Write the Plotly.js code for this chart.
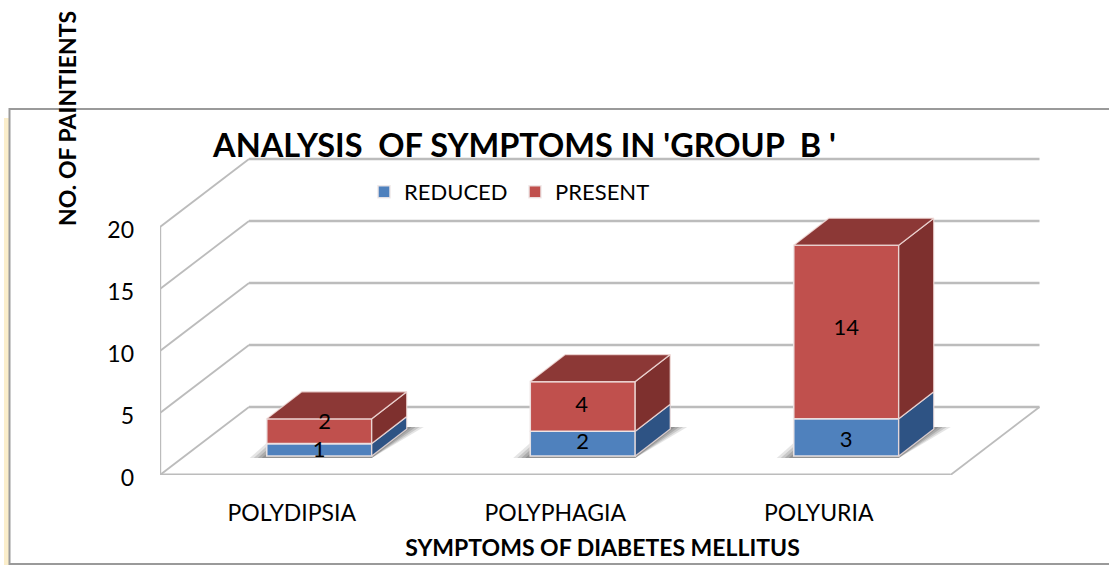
<!DOCTYPE html>
<html>
<head>
<meta charset="utf-8">
<script src="https://cdn.plot.ly/plotly-3.0.1.min.js"></script>
<style>html,body{margin:0;padding:0;background:#fff}#c{width:1109px;height:565px}</style>
</head>
<body>
<div id="c"></div>
<script>
// Data
const categories = ['POLYDIPSIA', 'POLYPHAGIA', 'POLYURIA'];
const reduced = [1, 2, 3];
const present = [2, 4, 14];
const yTicks = [0, 5, 10, 15, 20];

// Layout geometry
const W = 1109, H = 565;
const L = 160, R = 1045, T = 155, B = 475;
const pxPerCat = 263.5, pxPerUnit = 12.4;
const cx = px => px / pxPerCat, cy = px => px / pxPerUnit;
const xMin = -0.5, xMax = xMin + (R - L) / pxPerCat;
const yMax = (B - T) / pxPerUnit;
const paperX = px => (px - L) / (R - L), paperY = py => (B - py) / (B - T);

// 3D projection, expressed in axis units
const wallDx = cx(89), wallDy = cy(68);
const barShiftX = cx(27.5), barLift = cy(19);
const barW = cx(105), depthX = cx(35), depthY = cy(27);

const idx = categories.map((_, i) => i);
const barX = idx.map(i => i + barShiftX);
const stackTop = idx.map(i => reduced[i] + present[i]);

// Walls, floor and shadows sit below the traces
const GRID = '#bcbcbc';
const seg = (x0, y0, x1, y1, w) => ({
  type: 'line', layer: 'below', xref: 'x', yref: 'y',
  x0, y0, x1, y1, line: {color: GRID, width: w || 2.4}
});
const frontR = xMin + categories.length;
const shapes = [];
yTicks.forEach(t => {
  shapes.push(seg(xMin, t, xMin + wallDx, t + wallDy, 1.8));
  shapes.push(seg(xMin + wallDx, t + wallDy, frontR + wallDx, t + wallDy, 2.6));
});
shapes.push(seg(xMin, 0, xMin, yTicks[yTicks.length - 1]));
shapes.push(seg(xMin, 0, frontR, 0, 2.8));
shapes.push(seg(frontR, 0, frontR + wallDx, wallDy, 1.8));

// Soft floor shadows
[[17, 0.14], [13, 0.18], [9, 0.22], [5, 0.25]].forEach(([spread, op]) => {
  barX.forEach(x => {
    const xl = x - barW / 2, xr = x + barW / 2, s = cx(spread);
    const yLow = barLift - cy(2), yHigh = barLift + depthY + cy(2);
    const xs = [xl - s, xr, xr + depthX + s, xl + depthX - s];
    const ys = [yLow, yLow, yHigh, yHigh];
    shapes.push({
      type: 'path', layer: 'below', xref: 'x', yref: 'y',
      path: xs.map((v, i) => (i ? 'L' : 'M') + v + ',' + ys[i]).join(' ') + ' Z',
      fillcolor: 'rgba(70,70,70,' + op + ')', line: {width: 0}
    });
  });
});

// Outer frame and its pale left glow, in paper coordinates
const glow = {
  type: 'rect', xref: 'paper', yref: 'paper', layer: 'below',
  x0: paperX(4), x1: paperX(9), y0: paperY(565), y1: paperY(118),
  fillcolor: '#fbeecb', line: {width: 0}
};
const frame = {
  type: 'rect', xref: 'paper', yref: 'paper', layer: 'below',
  x0: paperX(9.5), x1: paperX(1112), y0: paperY(564), y1: paperY(109),
  fillcolor: 'rgba(0,0,0,0)', line: {color: '#9a9a9a', width: 2}
};
shapes.unshift(glow, frame);

// Depth faces: built from the values through the axes
function face(list, color) {
  const xs = [], ys = [];
  list.forEach(p => {
    p.forEach(q => { xs.push(q[0]); ys.push(q[1]); });
    xs.push(p[0][0]); ys.push(p[0][1]);
    xs.push(null); ys.push(null);
  });
  return {
    type: 'scatter', mode: 'lines', x: xs, y: ys, fill: 'toself', fillcolor: color,
    line: {color: 'rgba(245,225,222,0.8)', width: 1.3}, showlegend: false,
    hoverinfo: 'skip', cliponaxis: false
  };
}
const side = (i, a, b) => {
  const r = barX[i] + barW / 2, y0 = barLift + a, y1 = barLift + b;
  return [[r, y0], [r + depthX, y0 + depthY], [r + depthX, y1 + depthY], [r, y1]];
};
const top3d = i => {
  const l = barX[i] - barW / 2, r = barX[i] + barW / 2, y = barLift + stackTop[i];
  return [[l, y], [r, y], [r + depthX, y + depthY], [l + depthX, y + depthY]];
};

// Data labels: centred on each segment, with the small nudges seen in the reference
const nudgeReducedPx = [-2, 0, -4];
const nudgePresentPx = [8, 0, 2.5];
const nudgePresentXPx = [5.5, -1, 0];
const labelX = [], labelY = [], labelT = [];
idx.forEach(i => {
  labelX.push(barX[i]); labelY.push(barLift + reduced[i] / 2 + cy(nudgeReducedPx[i])); labelT.push(String(reduced[i]));
  labelX.push(barX[i] + cx(nudgePresentXPx[i])); labelY.push(barLift + reduced[i] + present[i] / 2 + cy(nudgePresentPx[i])); labelT.push(String(present[i]));
});

const barEdge = {color: 'rgba(240,232,232,0.9)', width: 1.6};
const traces = [
  {type: 'bar', name: 'REDUCED', x: barX, y: reduced, base: barX.map(() => barLift), width: barW,
   marker: {color: '#4F81BD', line: barEdge}, hoverinfo: 'skip'},
  {type: 'bar', name: 'PRESENT', x: barX, y: present, base: reduced.map(v => barLift + v), width: barW,
   marker: {color: '#C0504D', line: barEdge}, hoverinfo: 'skip'},
  face(idx.map(i => side(i, 0, reduced[i])), '#2E5384'),
  face(idx.map(i => side(i, reduced[i], stackTop[i])), '#7E302E'),
  face(idx.map(top3d), '#8C3836'),
  {type: 'scatter', mode: 'text', x: labelX, y: labelY, text: labelT, textposition: 'middle center',
   textfont: {family: 'Lato, sans-serif', size: 22, color: '#000'}, showlegend: false, hoverinfo: 'skip', cliponaxis: false}
];

const layout = {
  width: W, height: H, autosize: false,
  margin: {l: L, r: W - R, t: T, b: H - B, pad: 0},
  paper_bgcolor: '#ffffff', plot_bgcolor: 'rgba(0,0,0,0)',
  font: {family: 'Lato, sans-serif', color: '#000'},
  barmode: 'overlay',
  title: {
    text: "ANALYSIS\u00A0\u00A0OF SYMPTOMS IN 'GROUP\u00A0\u00A0B\u00A0'",
    font: {family: 'Lato, sans-serif', size: 32.5, weight: 700, color: '#000'},
    x: 524.5 / W, xanchor: 'center', y: 1 - 146 / H, yanchor: 'middle'
  },
  xaxis: {
    type: 'linear', range: [xMin, xMax], tickmode: 'array', tickvals: idx, ticktext: categories,
    showgrid: false, zeroline: false, showline: false, ticks: '', ticklabelstandoff: 22,
    tickfont: {family: 'Lato, sans-serif', size: 23, color: '#000'}, automargin: false,
    title: {text: 'SYMPTOMS OF DIABETES MELLITUS', standoff: 14,
            font: {family: 'Lato, sans-serif', size: 23, weight: 700, color: '#000'}}
  },
  yaxis: {
    type: 'linear', range: [0, yMax], tickmode: 'array', tickvals: yTicks,
    showgrid: false, zeroline: false, showline: false, ticks: '', ticklabelstandoff: 25,
    ticklabelshift: 3,
    tickfont: {family: 'Lato, sans-serif', size: 23, color: '#000'}, automargin: false
  },
  legend: {
    orientation: 'h', x: paperX(364), y: paperY(192), xanchor: 'left', yanchor: 'middle',
    font: {family: 'Lato, sans-serif', size: 22, color: '#000'}, bgcolor: 'rgba(0,0,0,0)',
    entrywidth: 106, entrywidthmode: 'pixels', traceorder: 'normal', itemclick: false, itemdoubleclick: false
  },
  annotations: [{
    text: 'NO. OF PAINTIENTS', xref: 'paper', yref: 'paper', x: paperX(67), y: paperY(119),
    xanchor: 'center', yanchor: 'middle', textangle: -90, showarrow: false,
    font: {family: 'Lato, sans-serif', size: 23, weight: 700, color: '#000'}
  }],
  shapes: shapes
};

Plotly.newPlot('c', traces, layout, {displayModeBar: false, staticPlot: true});
</script>
</body>
</html>
